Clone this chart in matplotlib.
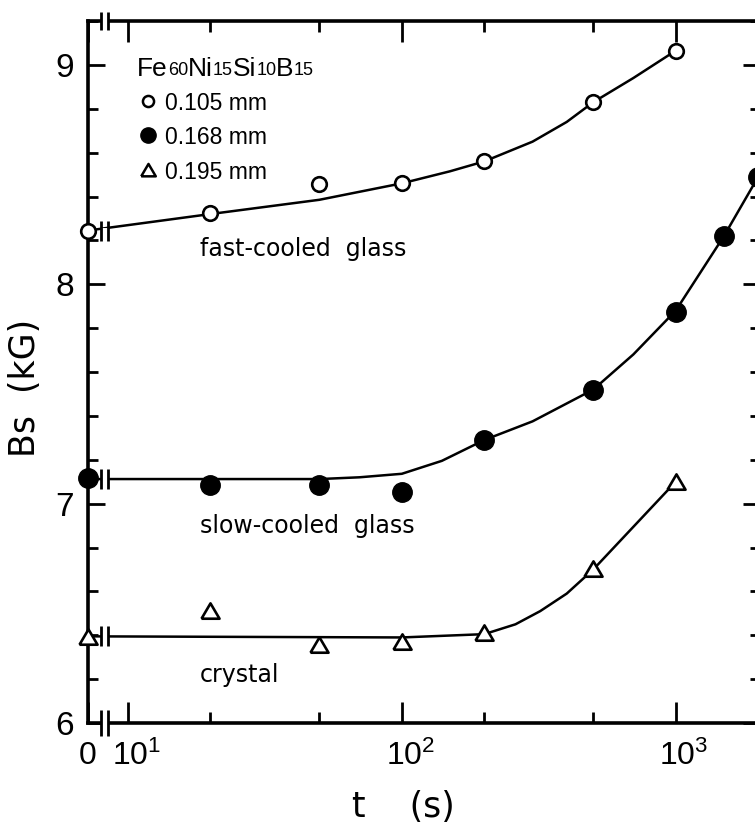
import matplotlib
matplotlib.use("Agg")
import matplotlib.pyplot as plt
import matplotlib.transforms as mtransforms
from matplotlib.ticker import FixedLocator, LogLocator, MultipleLocator, NullFormatter

# values; t = 0 is drawn on the left spine, behind an axis break
t_open = [0, 20, 50, 100, 200, 500, 1000]
bs_open = [8.245, 8.325, 8.455, 8.46, 8.56, 8.83, 9.065]
t_filled = [0, 20, 50, 100, 200, 500, 1000, 1500, 2000]
bs_filled = [7.115, 7.085, 7.085, 7.055, 7.29, 7.52, 7.875, 8.22, 8.49]
t_tri = [0, 20, 50, 100, 200, 500, 1000]
bs_tri = [6.39, 6.51, 6.355, 6.37, 6.41, 6.70, 7.10]

# hand-drawn guide curves
fit_fast_t = [0, 20, 50, 100, 150, 200, 300, 400, 500, 700, 1000]
fit_fast_bs = [8.245, 8.32, 8.385, 8.46, 8.515, 8.56, 8.65, 8.74, 8.83, 8.94, 9.065]
fit_slow_t = [0, 50, 70, 100, 140, 200, 300, 500, 700, 1000, 1500, 2000]
fit_slow_bs = [7.112, 7.112, 7.12, 7.136, 7.195, 7.29, 7.375, 7.52, 7.68, 7.88, 8.22, 8.49]
fit_cryst_t = [0, 100, 200, 260, 320, 400, 500, 1000]
fit_cryst_bs = [6.395, 6.39, 6.405, 6.45, 6.51, 6.59, 6.70, 7.10]

legend_labels = ["0.105 mm", "0.168 mm", "0.195 mm"]
alloy_parts = ["Fe", "60", "Ni", "15", "Si", "10", "B", "15"]
curve_labels = ["fast-cooled  glass", "slow-cooled  glass", "crystal"]

T_ZERO = 7.15      # x position used for t = 0
T_MAX = 2030
BREAK = (7.97, 8.45)

plt.rcParams["font.family"] = ["DejaVu Sans"]
plt.rcParams["mathtext.fontset"] = "custom"
plt.rcParams["mathtext.rm"] = "Liberation Sans"
plt.rcParams["mathtext.it"] = "Liberation Sans"
plt.rcParams["mathtext.bf"] = "Liberation Sans"
narrow = ["Liberation Sans", "DejaVu Sans"]


def tx(t):
    return [T_ZERO if v == 0 else v for v in t]


def curve(ax, t, bs):
    ax.plot(tx(t), bs, color="black", lw=1.8, zorder=3)
    y0 = bs[0]
    ax.plot(BREAK, [y0, y0], color="white", lw=5, solid_capstyle="butt", zorder=3.5)
    ax.plot(BREAK, [y0, y0], ls="none", marker="|", ms=14, mew=2, color="black", zorder=3.6)


fig = plt.figure(figsize=(7.55, 8.24), dpi=100)
ax = fig.add_axes([88 / 755, 1 - 723 / 824, 672 / 755, 702 / 824])
ax.set_xscale("log")
ax.set_xlim(T_ZERO, T_MAX)
ax.set_ylim(6, 9.2)

curve(ax, fit_fast_t, fit_fast_bs)
curve(ax, fit_slow_t, fit_slow_bs)
curve(ax, fit_cryst_t, fit_cryst_bs)

tri = [(-1, -0.8), (1, -0.8), (0, 0.9), (-1, -0.8)]
ax.plot(tx(t_open), bs_open, ls="none", marker="o", ms=10.5, mfc="white", mec="black",
        mew=1.9, clip_on=False, zorder=4)
ax.plot(tx(t_filled), bs_filled, ls="none", marker="o", ms=14, color="black",
        clip_on=False, zorder=4)
ax.plot(tx(t_tri), bs_tri, ls="none", marker=tri, ms=13, mfc="white", mec="black",
        mew=1.9, clip_on=False, zorder=4)

# legend block: alloy name with small digits sitting on the baseline
prev = ax.text(10.8, 8.95, alloy_parts[0], fontsize=19, family=narrow, va="baseline")
for i, part in enumerate(alloy_parts[1:]):
    small = i % 2 == 0
    prev = ax.annotate(part, xy=(1, 0), xycoords=prev, va="bottom",
                       fontsize=13 if small else 19, family=narrow,
                       xytext=(0, 1.2 if small else -1.2), textcoords="offset points")
leg_y = [8.836, 8.68, 8.523]
ax.plot(11.8, leg_y[0], marker="o", ms=8, mfc="white", mec="black", mew=1.8)
ax.plot(11.8, leg_y[1], marker="o", ms=11, color="black")
ax.plot(11.8, leg_y[2], marker=tri, ms=10.5, mfc="white", mec="black", mew=1.8)
for y, lab in zip(leg_y, legend_labels):
    ax.text(13.7, y, lab, fontsize=16.5, family=narrow, va="center_baseline")

ax.text(18.3, 8.13, curve_labels[0], fontsize=17, va="baseline")
ax.text(18.3, 6.868, curve_labels[1], fontsize=17, va="baseline")
ax.text(18.3, 6.186, curve_labels[2], fontsize=17, va="baseline")

# axes styling
for side in ["left", "bottom", "top", "right"]:
    ax.spines[side].set_linewidth(2.6)
ax.xaxis.set_major_locator(FixedLocator([T_ZERO, 10, 100, 1000]))
ax.set_xticklabels(["0", r"$10^1$", r"$10^2$", r"$10^3$"])
ax.xaxis.set_minor_locator(LogLocator(subs=(2.0, 5.0)))
ax.xaxis.set_minor_formatter(NullFormatter())
ax.yaxis.set_major_locator(FixedLocator([6, 7, 8, 9]))
ax.yaxis.set_minor_locator(MultipleLocator(0.2))
ax.tick_params(axis="x", which="major", direction="in", length=15, width=2,
               top=True, labelsize=23, pad=13)
ax.tick_params(axis="x", which="minor", direction="in", length=8, width=2, top=True)
ax.tick_params(axis="y", which="major", direction="in", length=12, width=2,
               right=True, labelsize=24, pad=10)
ax.tick_params(axis="y", which="minor", direction="in", length=7, width=2, right=True)
for lab in ax.get_yticklabels() + ax.get_xticklabels():
    lab.set_family(narrow)
shift = mtransforms.ScaledTranslation(6 / 72, 0, fig.dpi_scale_trans)
for lab in ax.get_xticklabels()[1:]:
    lab.set_transform(lab.get_transform() + shift)

# break marks on the top and bottom spines
for yax, size in ((0, 19), (1, 13)):
    ax.plot(BREAK, [yax, yax], color="white", lw=6, solid_capstyle="butt",
            transform=ax.get_xaxis_transform(), clip_on=False, zorder=4)
    ax.plot(BREAK, [yax, yax], ls="none", marker="|", ms=size, mew=2, color="black",
            transform=ax.get_xaxis_transform(), clip_on=False, zorder=5)

ax.set_ylabel("Bs  (kG)", fontsize=25)
ax.yaxis.set_label_coords(-0.069, 0.477)
ax.set_xlabel("t    (s)", fontsize=25)
ax.xaxis.set_label_coords(0.469, -0.096)

fig.savefig("out.png", dpi=100)
